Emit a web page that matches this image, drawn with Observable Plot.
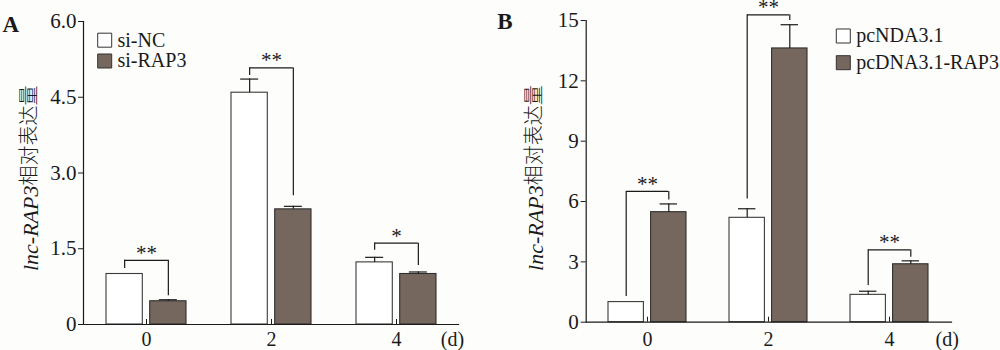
<!DOCTYPE html>
<html>
<head>
<meta charset="utf-8">
<script src="https://cdn.jsdelivr.net/npm/d3@7"></script>
<script src="https://cdn.jsdelivr.net/npm/@observablehq/plot@0.6"></script>
<style>
  html, body { margin: 0; padding: 0; background: #fdfdfb; }
  #wrap { position: relative; width: 1000px; height: 350px; background: #fdfdfb; overflow: hidden; }
  #wrap > div { position: absolute; top: 0; }
</style>
</head>
<body>
<div id="wrap"><div id="pa" style="left:0"></div><div id="pb" style="left:500px"></div></div>
<script>
// ---------- data ----------
const days = ["0", "2", "4"];

// Panel A
const seriesA = ["si-NC", "si-RAP3"];
const meanA_NC = [1.00, 4.59, 1.23];
const sdA_NC = [0, 0.27, 0.10];
const meanA_RAP3 = [0.46, 2.28, 1.00];
const sdA_RAP3 = [0.03, 0.06, 0.04];
const sigA = ["**", "**", "*"];
const bracketLeftA = [1.11, 4.93, 1.47];
const bracketTopA = [1.27, 5.08, 1.61];
const bracketRightA = [0.57, 2.55, 1.17];
const yTicksA = [0, 1.5, 3, 4.5, 6];

// Panel B
const seriesB = ["pcNDA3.1", "pcDNA3.1-RAP3"];
const meanB_ctrl = [1.00, 5.19, 1.36];
const sdB_ctrl = [0, 0.45, 0.18];
const meanB_RAP3 = [5.47, 13.61, 2.88];
const sdB_RAP3 = [0.41, 1.18, 0.17];
const sigB = ["**", "**", "**"];
const bracketLeftB = [1.28, 6.13, 1.82];
const bracketTopB = [6.50, 15.28, 3.60];
const bracketRightB = [6.08, 15.00, 3.23];
const yTicksB = [0, 3, 6, 9, 12, 15];

const yLabelItalic = "lnc-RAP3";
const yLabelRest = "相对表达量";
const unitLabel = "(d)";

// ---------- styling ----------
const SERIF = "Liberation Serif, Times New Roman, serif";
const CJK = "Noto Sans CJK SC, sans-serif";
const INK = "#1a1a1a";
const DARK = "#75675d";
const FILLS = ["#ffffff", DARK];
const YTICK_FS = 21;
const XTICK_FS = 20;

function makePanel(cfg) {
  const W = 500, H = 350;
  const inner = W - cfg.ml - cfg.mr;
  const step = inner / days.length;
  const bw = step * (1 - cfg.pad);
  const off = bw / 2 - cfg.barW / 2;
  const capInset = (bw - 18) / 2;

  const rows = s => days.map((d, i) => ({day: d, value: cfg.means[s][i], sd: cfg.sds[s][i]}));
  const s0 = rows(0), s1 = rows(1);
  const br = days.map((d, i) => ({day: d, left: cfg.bLeft[i], top: cfg.bTop[i], right: cfg.bRight[i], label: cfg.sig[i]}));

  const errMarks = (data, dx) => [
    Plot.ruleX(data.filter(d => d.sd > 0), {x: "day", y1: "value", y2: d => d.value + d.sd, dx, stroke: INK, strokeWidth: 1.2}),
    Plot.tickY(data.filter(d => d.sd > 0), {x: "day", y: d => d.value + d.sd, dx, insetLeft: capInset, insetRight: capInset, stroke: INK, strokeWidth: 1.2})
  ];

  const legendMarks = cfg.series.flatMap((name, i) => [
    Plot.dot([name], {frameAnchor: "top-left", dx: cfg.leg.dx, dy: cfg.leg.dy[i], symbol: "square", r: 7.9, fill: FILLS[i], stroke: "#333", strokeWidth: 1}),
    Plot.text([name], {frameAnchor: "top-left", dx: cfg.leg.tdx, dy: cfg.leg.dy[i], text: d => d, textAnchor: "start", lineAnchor: "middle", fontSize: 20, fontFamily: SERIF, fill: INK})
  ]);

  return Plot.plot({
    width: W, height: H,
    marginLeft: cfg.ml, marginRight: cfg.mr, marginTop: cfg.mt, marginBottom: cfg.mb,
    style: {background: "transparent", fontFamily: SERIF, fontSize: "20px", color: INK, overflow: "visible"},
    x: {type: "band", domain: days, paddingInner: cfg.pad, paddingOuter: cfg.pad / 2, axis: null},
    y: {domain: [0, cfg.yMax], axis: null},
    marks: [
      Plot.barY(s0, {x: "day", y: "value", fill: FILLS[0], stroke: "#3a3a3a", strokeWidth: 1.1, insetRight: bw - cfg.barW}),
      Plot.barY(s1, {x: "day", y: "value", fill: FILLS[1], stroke: "#2e2e2e", strokeWidth: 1.1, insetLeft: bw - cfg.barW}),
      ...errMarks(s0, -off),
      ...errMarks(s1, off),
      // significance brackets
      Plot.ruleX(br, {x: "day", y1: "left", y2: "top", dx: -off, stroke: INK, strokeWidth: 1.2}),
      Plot.ruleX(br, {x: "day", y1: "right", y2: "top", dx: off, stroke: INK, strokeWidth: 1.2}),
      Plot.tickY(br, {x: "day", y: "top", insetLeft: cfg.barW / 2, insetRight: cfg.barW / 2, stroke: INK, strokeWidth: 1.2}),
      Plot.text(br, {x: "day", y: "top", text: "label", lineAnchor: "bottom", dy: -0.5, fontSize: 21, fontFamily: SERIF, fill: INK}),
      // axes
      Plot.frame({anchor: "left", stroke: INK, strokeWidth: 1.2}),
      Plot.frame({anchor: "bottom", stroke: INK, strokeWidth: 1.2}),
      Plot.axisY({ticks: cfg.yTicks, tickFormat: cfg.fmt, tickSize: 5, tickPadding: cfg.yTickPad, label: null, fontSize: YTICK_FS, fontFamily: SERIF, stroke: INK, fill: INK}),
      Plot.axisX({tickSize: 5, dy: -5, tickPadding: cfg.xTickPad, label: null, fontSize: XTICK_FS, fontFamily: SERIF, stroke: INK, fill: INK}),
      Plot.text([unitLabel], {frameAnchor: "bottom-right", dx: cfg.unitDx, dy: cfg.xTickPad, text: d => d, lineAnchor: "top", textAnchor: "middle", fontSize: XTICK_FS, fontFamily: SERIF, fill: INK}),
      // y label
      Plot.text([yLabelItalic], {frameAnchor: "left", rotate: -90, dx: cfg.ylabDx, dy: cfg.ylabDy, text: d => d, textAnchor: "end", lineAnchor: "middle", fontStyle: "italic", fontSize: 22, fontFamily: SERIF, fill: INK}),
      Plot.text([yLabelRest], {frameAnchor: "left", rotate: -90, dx: cfg.ylabDx - 1, dy: cfg.ylabDy, text: d => d, textAnchor: "start", lineAnchor: "middle", fontSize: 20, fontFamily: CJK, fontWeight: 300, fill: INK}),
      // panel letter
      Plot.text([cfg.letter], {frameAnchor: "top-left", dx: cfg.letterDx, dy: cfg.letterDy, text: d => d, textAnchor: "start", lineAnchor: "top", fontSize: 23, fontWeight: "bold", fontFamily: SERIF, fill: INK}),
      ...legendMarks
    ]
  });
}

const fmtA = d => d === 0 ? "0" : d.toFixed(1);
const fmtB = d => String(d);

document.getElementById("pa").append(makePanel({
  ml: 83, mr: 42, mt: 21, mb: 26, pad: 0.36, barW: 36.3,
  yMax: 6, yTicks: yTicksA, fmt: fmtA, yTickPad: 2, xTickPad: 7,
  means: [meanA_NC, meanA_RAP3], sds: [sdA_NC, sdA_RAP3],
  bLeft: bracketLeftA, bTop: bracketTopA, bRight: bracketRightA, sig: sigA,
  series: seriesA, leg: {dx: 21.2, dy: [18.7, 39.5], tdx: 34},
  unitDx: -6, ylabDx: -53, ylabDy: 12.5,
  letter: "A", letterDx: -81, letterDy: -6
}));

document.getElementById("pb").append(makePanel({
  ml: 85.7, mr: 49, mt: 20, mb: 28.3, pad: 0.3545, barW: 36,
  yMax: 15, yTicks: yTicksB, fmt: fmtB, yTickPad: 2.5, xTickPad: 9.3,
  means: [meanB_ctrl, meanB_RAP3], sds: [sdB_ctrl, sdB_RAP3],
  bLeft: bracketLeftB, bTop: bracketTopB, bRight: bracketRightB, sig: sigB,
  series: seriesB, leg: {dx: 257.1, dy: [15.5, 42.2], tdx: 270},
  unitDx: -4.3, ylabDx: -50.7, ylabDy: 14,
  letter: "B", letterDx: -89, letterDy: -8
}));
</script>
</body>
</html>
